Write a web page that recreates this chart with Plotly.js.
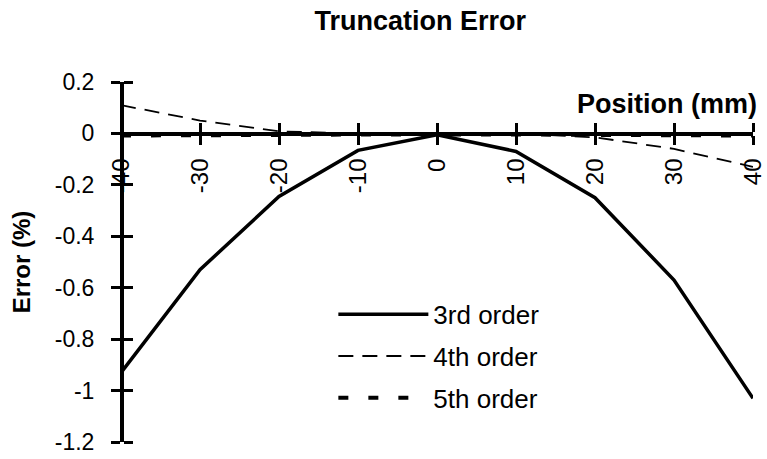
<!DOCTYPE html>
<html>
<head>
<meta charset="utf-8">
<script src="https://cdn.plot.ly/plotly-3.0.1.min.js"></script>
<style>
  html, body { margin: 0; padding: 0; background: #fff; }
  #chart { width: 767px; height: 459px; }
</style>
</head>
<body>
<div id="chart"></div>
<script>
// Position along the probe (mm)
const positions = [-40, -30, -20, -10, 0, 10, 20, 30, 40];

// Truncation error (%) for each expansion order
const order3 = [-0.93, -0.53, -0.245, -0.066, -0.005, -0.07, -0.25, -0.57, -1.03];
const order4 = [0.11, 0.05, 0.008, 0.0, 0.0, 0.0, -0.015, -0.06, -0.13];
const order5 = [-0.008, -0.008, -0.006, -0.004, -0.003, -0.004, -0.006, -0.008, -0.008];

const seriesNames = ['3rd order', '4th order', '5th order'];

// Tick labels
const xTickVals = [-40, -30, -20, -10, 0, 10, 20, 30, 40];
const xTickText = ['-40', '-30', '-20', '-10', '0', '10', '20', '30', '40'];
const yTickVals = [0.2, 0, -0.2, -0.4, -0.6, -0.8, -1, -1.2];
const yTickText = ['0.2', '0', '-0.2', '-0.4', '-0.6', '-0.8', '-1', '-1.2'];

const xRange = [-40, 40];
const yRange = [-1.2, 0.2];
// x axis crosses the y axis at zero
const xAxisPos = (0 - yRange[0]) / (yRange[1] - yRange[0]);

const FONT = 'Arial, "Liberation Sans", Helvetica, sans-serif';

const traces = [
  {
    x: positions, y: order3, name: seriesNames[0], mode: 'lines',
    line: { color: '#000', width: 3.5 }, cliponaxis: false, legendgroup: 'a'
  },
  {
    x: positions, y: order4, name: seriesNames[1], mode: 'lines',
    line: { color: '#000', width: 1.8, dash: '15px,9px' }, cliponaxis: false, legendgroup: 'b'
  },
  {
    // drawn on the mirror axes (same ranges) so those axes are created
    x: positions, y: order5, name: seriesNames[2], mode: 'lines',
    xaxis: 'x2', yaxis: 'y2',
    line: { color: '#000', width: 4, dash: '10px,20px' }, cliponaxis: false, legendgroup: 'c'
  }
];

const axisCommon = {
  showgrid: false, zeroline: false, showline: true,
  linecolor: '#000', linewidth: 3.5,
  tickcolor: '#000', tickwidth: 3, ticklen: 9,
  tickmode: 'array', ticks: 'outside'
};

const layout = {
  width: 767, height: 459,
  margin: { l: 121, r: 14, t: 82, b: 17 },
  paper_bgcolor: '#fff', plot_bgcolor: '#fff',
  font: { family: FONT, color: '#000', size: 23 },
  title: {
    text: '<b>Truncation Error</b>',
    font: { family: FONT, size: 27, color: '#000' },
    xref: 'container', x: 0.548, xanchor: 'center',
    yref: 'container', y: 0.955, yanchor: 'middle'
  },
  showlegend: true,
  legend: {
    x: 0.336, xanchor: 'left', y: 0.42, yanchor: 'top',
    bgcolor: 'rgba(0,0,0,0)', borderwidth: 0,
    font: { family: FONT, size: 26, color: '#000' },
    itemwidth: 90, traceorder: 'grouped', tracegroupgap: 5
  },
  // lower halves of the cross ticks, with labels
  xaxis: Object.assign({}, axisCommon, {
    range: xRange, anchor: 'free', position: xAxisPos, side: 'bottom',
    tickvals: xTickVals, ticktext: xTickText,
    tickangle: -90, ticklabelstandoff: 4, ticklabeloverflow: 'allow',
    tickfont: { family: FONT, size: 24, color: '#000' }
  }),
  // upper halves of the cross ticks
  xaxis2: Object.assign({}, axisCommon, {
    range: xRange, anchor: 'free', position: xAxisPos, overlaying: 'x', side: 'top',
    tickvals: xTickVals, showticklabels: false
  }),
  // left halves of the cross ticks, with labels
  yaxis: Object.assign({}, axisCommon, {
    range: yRange, anchor: 'free', position: 0, side: 'left',
    tickvals: yTickVals, ticktext: yTickText,
    ticklabelstandoff: 12,
    tickfont: { family: FONT, size: 23, color: '#000' },
    title: { text: '<b>Error (%)</b>', font: { family: FONT, size: 24, color: '#000' }, standoff: 16 }
  }),
  // right halves of the cross ticks
  yaxis2: Object.assign({}, axisCommon, {
    range: yRange, anchor: 'free', position: 0, overlaying: 'y', side: 'right',
    tickvals: yTickVals, showticklabels: false
  }),
  annotations: [{
    text: '<b>Position (mm)</b>',
    xref: 'paper', x: 1, xanchor: 'right', xshift: 6,
    yref: 'y', y: 0, yanchor: 'bottom', yshift: 12,
    showarrow: false,
    font: { family: FONT, size: 27, color: '#000' }
  }]
};

Plotly.newPlot('chart', traces, layout, { displayModeBar: false, staticPlot: true });
</script>
</body>
</html>
